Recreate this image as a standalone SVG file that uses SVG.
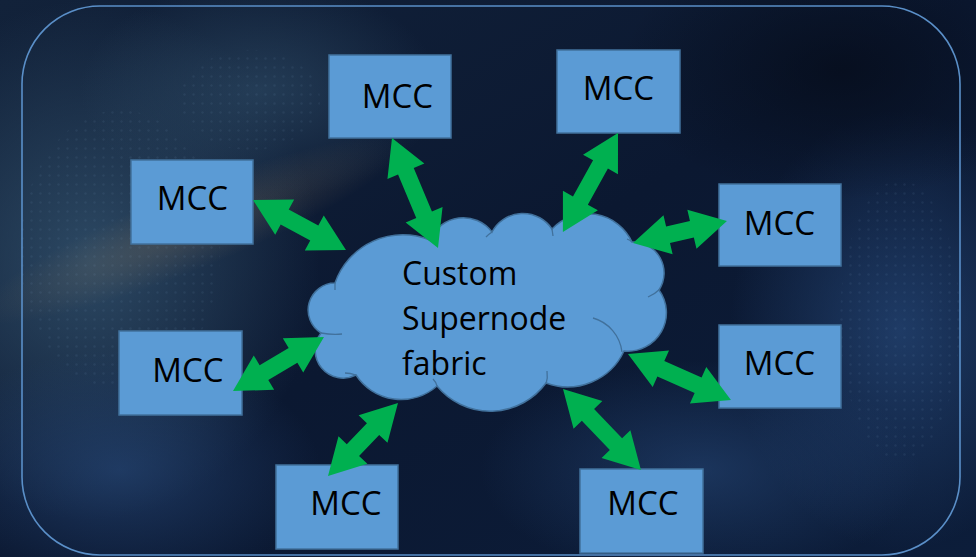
<svg xmlns="http://www.w3.org/2000/svg" width="976" height="557" viewBox="0 0 976 557">
<defs>
<style>
.box{fill:#5b9bd5;stroke:#41719c;stroke-width:1.5}
.lbl{font-family:"Open Sans","Noto Sans","Liberation Sans",sans-serif;font-size:33px;fill:#000;text-anchor:middle}
.ctxt{font-family:"Open Sans","Noto Sans","Liberation Sans",sans-serif;font-size:32px;fill:#000}
.arrow{fill:#00b050}
.inner{fill:none;stroke:#41719c;stroke-width:1.3}
.cloud{fill:#5b9bd5;stroke:#41719c;stroke-width:1.5}
</style>
<linearGradient id="bg" x1="0" y1="0" x2="1" y2="1">
<stop offset="0" stop-color="#12223a"/>
<stop offset="0.5" stop-color="#0b1831"/>
<stop offset="1" stop-color="#0c1d3a"/>
</linearGradient>
<radialGradient id="gA"><stop offset="0" stop-color="#34546f" stop-opacity="0.8"/><stop offset="1" stop-color="#34546f" stop-opacity="0"/></radialGradient>
<radialGradient id="gB"><stop offset="0" stop-color="#27497a" stop-opacity="0.7"/><stop offset="1" stop-color="#27497a" stop-opacity="0"/></radialGradient>
<radialGradient id="gC"><stop offset="0" stop-color="#050b18" stop-opacity="0.7"/><stop offset="1" stop-color="#050b18" stop-opacity="0"/></radialGradient>
<radialGradient id="gW"><stop offset="0" stop-color="#7d6f5c" stop-opacity="0.35"/><stop offset="1" stop-color="#7d6f5c" stop-opacity="0"/></radialGradient>
<pattern id="dots" width="9" height="9" patternUnits="userSpaceOnUse">
<circle cx="4.5" cy="4.5" r="1.2" fill="#8fb6dc"/>
</pattern>
</defs>
<g id="background">
<rect width="976" height="557" fill="url(#bg)"/>
<ellipse cx="90" cy="260" rx="230" ry="260" fill="url(#gA)"/>
<ellipse cx="260" cy="90" rx="180" ry="110" fill="url(#gA)" opacity="0.7"/>
<ellipse cx="900" cy="330" rx="170" ry="220" fill="url(#gB)"/>
<ellipse cx="700" cy="470" rx="220" ry="110" fill="url(#gB)" opacity="0.8"/>
<ellipse cx="120" cy="470" rx="200" ry="120" fill="url(#gB)" opacity="0.9"/>
<ellipse cx="840" cy="70" rx="220" ry="130" fill="url(#gC)"/>
<ellipse cx="190" cy="230" rx="230" ry="40" fill="url(#gW)" transform="rotate(-22 190 230)"/>
<g opacity="0.08">
<ellipse cx="120" cy="250" rx="100" ry="140" fill="url(#dots)"/>
<ellipse cx="900" cy="320" rx="60" ry="140" fill="url(#dots)"/>
<ellipse cx="250" cy="100" rx="70" ry="50" fill="url(#dots)"/>
</g>
<rect x="22" y="6" width="938" height="549" rx="78" ry="78" fill="none" stroke="#5a8fc8" stroke-width="1.6"/>
</g>
<g id="node-mcc-1"><rect class="box" x="329" y="55" width="122" height="83"/><text class="lbl" x="397.5" y="108">MCC</text></g>
<g id="node-mcc-2"><rect class="box" x="557" y="50" width="123" height="83"/><text class="lbl" x="618.5" y="100">MCC</text></g>
<g id="node-mcc-3"><rect class="box" x="131" y="160" width="122" height="84"/><text class="lbl" x="192.5" y="209.5">MCC</text></g>
<g id="node-mcc-4"><rect class="box" x="719" y="184" width="122" height="82"/><text class="lbl" x="779.5" y="234.5">MCC</text></g>
<g id="node-mcc-5"><rect class="box" x="119" y="331" width="123" height="84"/><text class="lbl" x="188" y="382">MCC</text></g>
<g id="node-mcc-6"><rect class="box" x="719" y="325" width="122" height="83"/><text class="lbl" x="779.5" y="375">MCC</text></g>
<g id="node-mcc-7"><rect class="box" x="276" y="465" width="122" height="84"/><text class="lbl" x="346" y="514.5">MCC</text></g>
<g id="node-mcc-8"><rect class="box" x="580" y="469" width="123" height="84"/><text class="lbl" x="643" y="514.5">MCC</text></g>
<g id="node-cloud">
<path class="cloud" d="M321,333 A27,27 0 0 1 335,283 A72,72 0 0 1 430,240 A36,36 0 0 1 492,232 A35,35 0 0 1 552,229 A49,49 0 0 1 632,242 A31,31 0 0 1 659,290 A38.5,38.5 0 0 1 624,351 A62,62 0 0 1 546,383 A69,69 0 0 1 437,386 A54,54 0 0 1 356,375 A28,28 0 0 1 321,333 Z"/>
<path class="inner" d="M321,333 Q332,335 342,334"/>
<path class="inner" d="M335,283 L335,290"/>
<path class="inner" d="M492,232 Q489,234 486,237"/>
<path class="inner" d="M552,229 L553,236"/>
<path class="inner" d="M632,242 Q630,240 627,239"/>
<path class="inner" d="M660,289 Q655,294 648,297"/>
<path class="inner" d="M593,318 A40,40 0 0 1 622,352"/>
<path class="inner" d="M546,384 Q548,378 547,371"/>
<path class="inner" d="M437,386 Q436,382 433,379"/>
<path class="inner" d="M356,375 Q350,373 345,373"/>
<text class="ctxt" x="402" y="285">Custom</text>
<text class="ctxt" x="402" y="330">Supernode</text>
<text class="ctxt" x="402" y="375">fabric</text>
</g>
<g id="connectors">
<polygon class="arrow" transform="translate(392,138) rotate(67.3)" points="0,0 36,-20 36,-8.5 83.2,-8.5 83.2,-20 119.2,0 83.2,20 83.2,8.5 36,8.5 36,20"/>
<polygon class="arrow" transform="translate(618,133) rotate(119.1)" points="0,0 36,-20 36,-8.5 77.3,-8.5 77.3,-20 113.3,0 77.3,20 77.3,8.5 36,8.5 36,20"/>
<polygon class="arrow" transform="translate(253,200) rotate(28.3)" points="0,0 36,-20 36,-8.5 69.6,-8.5 69.6,-20 105.6,0 69.6,20 69.6,8.5 36,8.5 36,20"/>
<polygon class="arrow" transform="translate(633,243) rotate(-13.2)" points="0,0 36,-20 36,-8.5 60.5,-8.5 60.5,-20 96.5,0 60.5,20 60.5,8.5 36,8.5 36,20"/>
<polygon class="arrow" transform="translate(233,391) rotate(-30.7)" points="0,0 36,-20 36,-8.5 69.8,-8.5 69.8,-20 105.8,0 69.8,20 69.8,8.5 36,8.5 36,20"/>
<polygon class="arrow" transform="translate(628,354) rotate(24.1)" points="0,0 36,-20 36,-8.5 76.8,-8.5 76.8,-20 112.8,0 76.8,20 76.8,8.5 36,8.5 36,20"/>
<polygon class="arrow" transform="translate(328,476) rotate(-46.2)" points="0,0 36,-20 36,-8.5 65.1,-8.5 65.1,-20 101.1,0 65.1,20 65.1,8.5 36,8.5 36,20"/>
<polygon class="arrow" transform="translate(563,389) rotate(46.1)" points="0,0 36,-20 36,-8.5 76.4,-8.5 76.4,-20 112.4,0 76.4,20 76.4,8.5 36,8.5 36,20"/>
</g>
</svg>
